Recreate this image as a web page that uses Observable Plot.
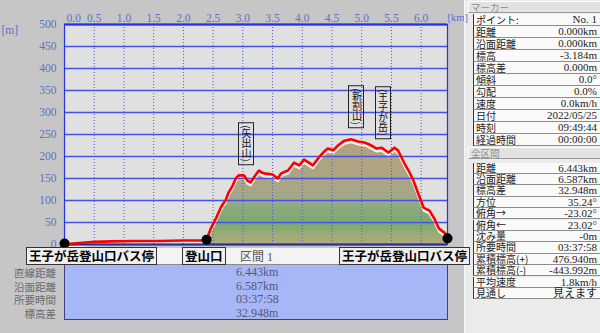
<!DOCTYPE html>
<html><head><meta charset="utf-8">
<script src="https://cdn.jsdelivr.net/npm/d3@7"></script>
<script src="https://cdn.jsdelivr.net/npm/@observablehq/plot@0.6"></script>
<style>
html,body{margin:0;padding:0;}
body{width:600px;height:333px;overflow:hidden;background:#c6c6c6;font-family:"Liberation Serif","Noto Sans CJK JP",serif;}
#root{position:relative;width:600px;height:333px;}
#root svg{position:absolute;left:0;top:0;z-index:3;pointer-events:none;}
.abs{position:absolute;white-space:nowrap;}
.peak{position:absolute;writing-mode:vertical-rl;font-family:"Noto Sans CJK JP",sans-serif;font-size:10px;line-height:12px;border:1px solid #222;padding:2px 1px;color:#111;transform:translate(-50%,-100%);z-index:4;}
.mlabel{position:absolute;font-family:"Noto Sans CJK JP",sans-serif;font-weight:bold;font-size:12.5px;line-height:16px;height:16px;border:1px solid #333;background:#efefef;padding:0 2px;color:#000;z-index:5;white-space:nowrap;overflow:visible;}
#band{position:absolute;left:64px;top:248px;width:383px;height:16px;background:#f3f3f3;border-bottom:1px solid #8a8a8a;}
#stats{position:absolute;left:64px;top:265px;width:382px;height:54px;background:#a7b6f7;border:1px solid #3a4088;border-top:none;}
.slab{position:absolute;right:544px;height:13px;overflow:visible;font-family:"Noto Sans CJK JP",sans-serif;font-size:10.5px;line-height:13px;color:#6a6a6a;}
.sval{position:absolute;left:236px;height:13px;overflow:visible;font-size:12px;line-height:13px;color:#55577a;}
#side{position:absolute;left:464px;top:0;width:136px;height:333px;background:#ebebeb;border-left:1px solid #f8f8f8;z-index:2;}
.hdr{position:absolute;left:3px;width:131px;height:10px;background:#e2e2e2;border-top:1px solid #fff;border-left:1px solid #fff;border-bottom:1px solid #9a9a9a;border-right:1px solid #9a9a9a;font-family:"Noto Sans CJK JP",sans-serif;font-size:9.5px;line-height:10px;color:#8c8c8c;padding-left:2px;overflow:visible;}
.row{position:absolute;left:8px;width:127px;background:#fafafa;border-left:1px solid #333;border-bottom:1px solid #8c8c8c;font-size:11px;color:#1a1a1a;box-sizing:border-box;}
.row .k{position:absolute;display:block;left:2px;top:0;height:100%;line-height:inherit;overflow:visible;white-space:nowrap;font-family:"Noto Sans CJK JP",sans-serif;font-size:10px;}
.row .v{position:absolute;display:block;right:3px;top:0;height:100%;line-height:inherit;overflow:visible;white-space:nowrap;}
</style></head><body>
<div id="root"></div>
<script>
// ---- data ----
const distKm = [0, 0.05, 0.2, 0.5, 0.8, 1.2, 1.6, 2.0, 2.3, 2.39, 2.43, 2.46, 2.55, 2.63, 2.68, 2.71, 2.76, 2.83, 2.88, 2.93, 3.02, 3.08, 3.13, 3.2, 3.27, 3.33, 3.39, 3.5, 3.59, 3.64, 3.7, 3.76, 3.86, 3.95, 4.03, 4.11, 4.18, 4.28, 4.36, 4.43, 4.52, 4.6, 4.71, 4.82, 4.94, 5.04, 5.1, 5.16, 5.25, 5.33, 5.45, 5.55, 5.61, 5.72, 5.8, 5.87, 5.95, 6.04, 6.14, 6.22, 6.3, 6.39, 6.443];
const elevM = [-3, 1, 3, 6, 7, 8, 8, 9, 9, 10, 25, 36, 60, 84, 95, 100, 118, 134, 150, 157, 157, 145, 141, 155, 168, 163, 161, 159, 150, 161, 165, 168, 186, 180, 193, 186, 180, 198, 210, 218, 214, 225, 236, 239, 234, 232, 229, 225, 218, 220, 209, 220, 214, 184, 165, 145, 116, 84, 77, 59, 36, 27, 18];
const totalKm = 6.443;
const xTicks = [0.5, 1.0, 1.5, 2.0, 2.5, 3.0, 3.5, 4.0, 4.5, 5.0, 5.5, 6.0];
const yTicks = [0, 50, 100, 150, 200, 250, 300, 350, 400, 450, 500];
const markerKm = [0, 2.39, 6.443];
const markerElev = [2, 11, 14];
const markerNames = ["王子が岳登山口バス停", "登山口", "王子が岳登山口バス停"];
const peakNames = ["(矢出山)", "(新割山)", "(王子が岳)"];
const peakKm = [3.06, 4.92, 5.36];
const peakLabelElev = [180, 264, 239];
const sectionLabel = "区間 1";
const statLabels = ["直線距離", "沿面距離", "所要時間", "標高差"];
const statValues = ["6.443km", "6.587km", "03:37:58", "32.948m"];
const markerHeader = "マーカー";
const markerKeys = ["ポイント:", "距離", "沿面距離", "標高", "標高差", "傾斜", "勾配", "速度", "日付", "時刻", "経過時間"];
const markerVals = ["No. 1", "0.000km", "0.000km", "-3.184m", "0.000m", "0.0°", "0.0%", "0.0km/h", "2022/05/25", "09:49:44", "00:00:00"];
const totalHeader = "全区間";
const totalKeys = ["距離", "沿面距離", "標高差", "方位", "俯角→", "俯角←", "沈み量", "所要時間", "累積標高(+)", "累積標高(-)", "平均速度", "見通し"];
const totalVals = ["6.443km", "6.587km", "32.948m", "35.24°", "-23.02°", "23.02°", "-0m", "03:37:58", "476.940m", "-443.992m", "1.8km/h", "見えます"];

// ---- styles ----
const gradStops = [[0, "#b3a47a"], [14, "#aeaa7a"], [32, "#98ad76"], [55, "#7ba970"], [85, "#86aa7a"], [115, "#a0a888"], [150, "#aca584"], [250, "#b3a27c"]];
const tickColor = "#6070c6";

const profile = distKm.map((d, i) => ({km: d, elev: elevM[i]}));
const markers = markerKm.map((d, i) => ({km: d, elev: markerElev[i], name: markerNames[i]}));

const chart = Plot.plot({
  width: 600, height: 333,
  marginLeft: 64, marginRight: 153, marginTop: 24, marginBottom: 89,
  x: {domain: [0, totalKm], axis: null},
  y: {domain: [0, 500], axis: null},
  style: {background: "transparent", fontFamily: "'Liberation Serif', serif", fontSize: "11.5px", overflow: "visible"},
  marks: [
    Plot.frame({fill: "#e0e0e0", stroke: null}),
    Plot.areaY(profile, {x: "km", y: "elev", fill: "url(#terrainGrad)", dy: 4}),
    Plot.lineY(profile, {x: "km", y: "elev", stroke: "#f2f2f2", strokeWidth: 2, dy: 3}),
    Plot.ruleX(xTicks, {stroke: "#4a56d4", strokeDasharray: "1,2", strokeWidth: 1}),
    Plot.ruleY(yTicks, {stroke: "#4652e2", strokeWidth: 1.3}),
    Plot.frame({stroke: "#2434e6", strokeWidth: 1.2}),
    Plot.ruleY([500], {stroke: "#2030f0", strokeWidth: 2}),
    Plot.ruleY([0], {stroke: "#2a3096", strokeWidth: 2}),
    Plot.lineY(profile, {x: "km", y: "elev", stroke: "#ff0000", strokeWidth: 2.6}),
    Plot.dot(markers, {x: "km", y: "elev", r: 5, fill: "#000", stroke: null}),
    Plot.text(xTicks, {x: d => d, frameAnchor: "top", dy: -11, text: d => d.toFixed(1), fill: tickColor}),
    Plot.text([0], {x: d => d, frameAnchor: "top", dy: -11, dx: 2, textAnchor: "start", text: d => d.toFixed(1), fill: tickColor}),
    Plot.text(yTicks, {y: d => d, frameAnchor: "left", dx: -8, textAnchor: "end", text: d => String(d), fill: tickColor}),
    Plot.text(["[m]"], {frameAnchor: "top-left", dx: -63, dy: 1, textAnchor: "start", text: d => d, fill: tickColor}),
    Plot.text(["[km]"], {frameAnchor: "top-right", dx: 0, dy: -11, textAnchor: "start", text: d => d, fill: tickColor, fontSize: 10.5})
  ]
});

const root = document.getElementById("root");
root.appendChild(chart);
const xs = chart.scale("x"), ys = chart.scale("y");
const svg = d3.select(chart);
const defs = svg.insert("defs", ":first-child");
const grad = defs.append("linearGradient").attr("id", "terrainGrad")
  .attr("gradientUnits", "userSpaceOnUse").attr("x1", 0).attr("x2", 0)
  .attr("y1", ys.apply(0)).attr("y2", ys.apply(250));
gradStops.forEach(([e, c]) => grad.append("stop").attr("offset", e / 250).attr("stop-color", c));
const [xr0, xr1] = [xs.apply(0), xs.apply(totalKm)];
defs.append("clipPath").attr("id", "areaClip").append("rect")
  .attr("x", xr0).attr("y", 0).attr("width", xr1 - xr0).attr("height", ys.apply(0) - 4);
svg.selectAll('g[aria-label="area"]').attr("clip-path", "url(#areaClip)");

function el(cls, text, css) {
  const d = document.createElement("div");
  d.className = cls; d.textContent = text;
  Object.assign(d.style, css || {});
  root.appendChild(d); return d;
}

// peak labels
peakNames.forEach((n, i) => {
  el("peak", n, {left: xs.apply(peakKm[i]) + "px", top: ys.apply(peakLabelElev[i]) + "px"});
});

// section band + stats
el("", "", {}).id = "band";
el("", "", {}).id = "stats";
el("abs", sectionLabel, {left: "240px", top: "250px", fontSize: "12px", color: "#555", lineHeight: "14px", height: "14px"});
statLabels.forEach((s, i) => {
  el("slab", s, {top: (266 + i * 13.5) + "px"});
  el("sval", statValues[i], {top: (266 + i * 13.5) + "px"});
});

// marker name boxes
markers.forEach((m, i) => {
  const b = el("mlabel", m.name, {top: "247px"});
  const w = b.offsetWidth;
  const px = xs.apply(m.km);
  let left;
  if (i === 0) left = px - 38;
  else if (i === markers.length - 1) left = px + 23 - w;
  else left = px - 2 - w / 2;
  b.style.left = left + "px";
});

// side panel
const side = document.createElement("div");
side.id = "side"; root.appendChild(side);
function sdiv(cls, css, html) {
  const d = document.createElement("div");
  d.className = cls; Object.assign(d.style, css); if (html != null) d.innerHTML = html;
  side.appendChild(d); return d;
}
sdiv("hdr", {top: "1px"}, markerHeader);
markerKeys.forEach((k, i) => {
  const r = sdiv("row", {top: (14 + i * 12) + "px", height: "12px", lineHeight: "11px"});
  r.innerHTML = `<span class="k"></span><span class="v"></span>`;
  r.querySelector(".k").textContent = k; r.querySelector(".v").textContent = markerVals[i];
});
sdiv("hdr", {top: "147px"}, totalHeader);
totalKeys.forEach((k, i) => {
  const r = sdiv("row", {top: (162.5 + i * 11.4) + "px", height: "11.4px", lineHeight: "10.5px"});
  r.innerHTML = `<span class="k"></span><span class="v"></span>`;
  r.querySelector(".k").textContent = k; r.querySelector(".v").textContent = totalVals[i];
});
</script>
</body></html>
